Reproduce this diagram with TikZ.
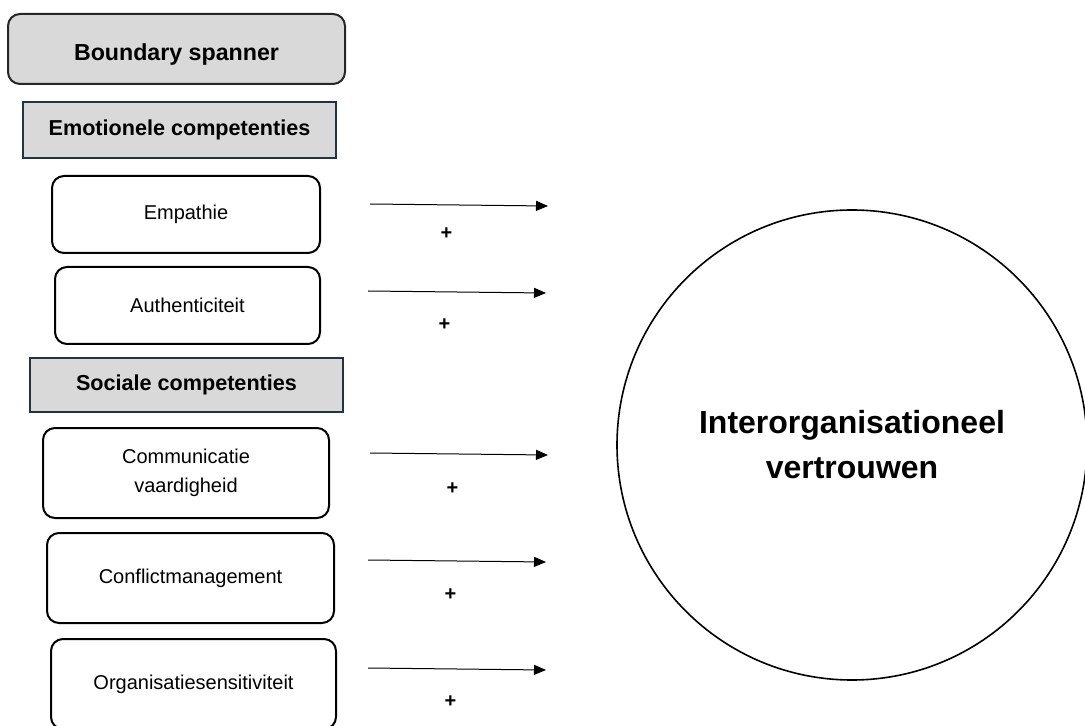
\documentclass[tikz,border=0pt]{standalone}
\usepackage{fontspec}
\setmainfont{Liberation Sans}
\usepackage{tikz}
\usetikzlibrary{positioning}
\usetikzlibrary{arrows.meta}
\definecolor{boxgray}{HTML}{D9D9D9}
\definecolor{darknavy}{HTML}{1E3545}
\tikzset {
  % grey rounded title box
  title/.style = {draw=black!85, fill=boxgray, rounded corners=6pt, line width=1pt,
    minimum width=168.5pt, minimum height=35pt, text height=12pt, text depth=0pt,
    font=\fontsize{11.6}{14}\selectfont\bfseries},
  % grey headers for the groups of competences
  group/.style = {draw=darknavy, fill=boxgray, line width=1pt, minimum width=156.5pt,
    font=\fontsize{10.8}{13}\selectfont\bfseries},
  % white rounded boxes, one per competence
  comp/.style = {draw=black, fill=white, rounded corners=6pt, line width=1pt,
    align=center, font=\fontsize{10}{14.5}\selectfont},
  % the outcome
  outcome/.style = {draw=black, circle, line width=0.8pt, minimum size=235pt, inner sep=0pt,
    align=center, font=\fontsize{16}{22.5}\selectfont\bfseries},
  % effect arrows and their sign
  effect/.style = {line width=0.5pt, -{Triangle[length=6pt,width=5pt]}},
  sign/.style = {pos=0.43, yshift=-13.5pt, font=\fontsize{10}{12}\selectfont\bfseries},
}

\begin{document}
\begin{tikzpicture}[x=0.5pt, y=-0.5pt]
      \useasboundingbox (0,0) rectangle (1085,726);

      \node[title] (bs) at (176.5,49) {Boundary spanner};

      \node[group, minimum height=28pt] (emo) at (179.5,130) {Emotionele competenties};

      \node[comp, minimum width=134pt, minimum height=38.5pt] (emp) at (186,214.5) {Empathie};

      \node[comp, minimum width=132.5pt, minimum height=38.5pt] (aut) at (187.5,305.5) {Authenticiteit};

      \node[group, minimum height=27pt] (soc) at (186.5,385) {Sociale competenties};

      \node[comp, minimum width=143pt, minimum height=45pt] (com) at (186,473) {Communicatie\\vaardigheid};

      \node[comp, minimum width=143.5pt, minimum height=45pt] (con) at (190.5,578) {Conflictmanagement};

      \node[comp, minimum width=142.5pt, minimum height=45pt] (org) at (193.5,684) {Organisatiesensitiviteit};

      \node[outcome] (trust) at (852,445) {Interorganisationeel\\vertrouwen};

      \coordinate (e1) at (370,204);
      \coordinate (f1) at (548,206);
      \coordinate (e2) at (368,291);
      \coordinate (f2) at (546,293);
      \coordinate (e3) at (370,453);
      \coordinate (f3) at (548,455);
      \coordinate (e4) at (368,560);
      \coordinate (f4) at (546,562);
      \coordinate (e5) at (368,668);
      \coordinate (f5) at (546,670);

      \draw[effect] (e1) -- node[sign, yshift=-1pt] {+} (f1);
      \draw[effect] (e2) -- node[sign, yshift=-3pt] {+} (f2);
      \draw[effect] (e3) -- node[sign, xshift=3pt, yshift=-4pt] {+} (f3);
      \draw[effect] (e4) -- node[sign, xshift=3pt, yshift=-3.5pt] {+} (f4);
      \draw[effect] (e5) -- node[sign, xshift=3pt, yshift=-3pt] {+} (f5);
    \end{tikzpicture}
\end{document}
